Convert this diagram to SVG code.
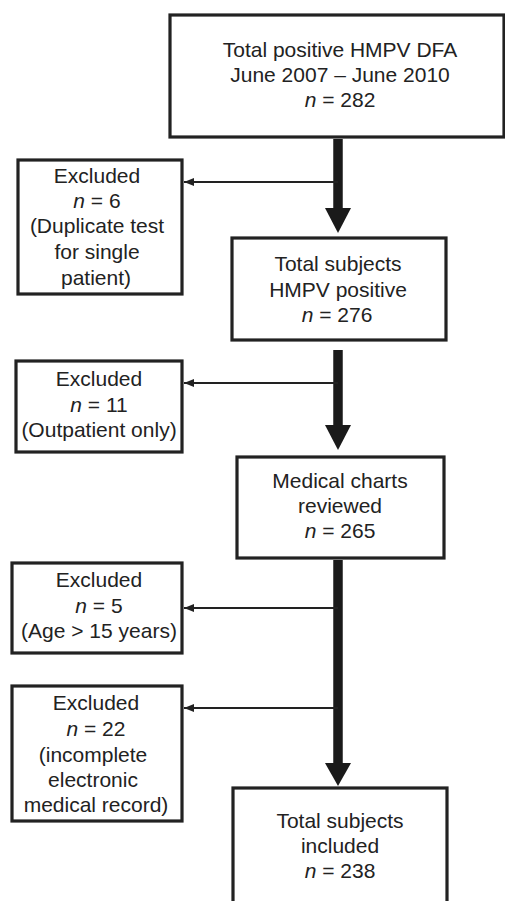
<svg xmlns="http://www.w3.org/2000/svg" width="505" height="901" viewBox="0 0 505 901">
<defs>
<style>
.box{fill:#fff;stroke:#222;stroke-width:3.2}
.t{font-family:"Liberation Sans",Arial,sans-serif;font-size:21px;fill:#222;text-anchor:middle}
.i{font-style:italic}
.shaft{stroke:#1a1a1a;stroke-width:9.5;fill:none}
.branch{stroke:#222;stroke-width:2.2;fill:none}
.head{fill:#1a1a1a}
</style>
<marker id="sm" markerWidth="11" markerHeight="9" refX="10" refY="4.5" orient="auto" markerUnits="userSpaceOnUse">
<path d="M0,0.5 L10,4.5 L0,8.5 Z" fill="#222"/>
</marker>
</defs>
<rect width="505" height="901" fill="#fff"/>
<g id="n1">
<rect class="box" x="170" y="15" width="334" height="122"/>
<text class="t" x="340" y="57">Total positive HMPV DFA</text>
<text class="t" x="340" y="82">June 2007 – June 2010</text>
<text class="t" x="340" y="107"><tspan class="i">n</tspan> = 282</text>
</g>
<g id="x1">
<rect class="box" x="18" y="160" width="164" height="134"/>
<text class="t" x="97" y="183">Excluded</text>
<text class="t" x="97" y="208"><tspan class="i">n</tspan> = 6</text>
<text class="t" x="97" y="233">(Duplicate test</text>
<text class="t" x="97" y="259">for single</text>
<text class="t" x="96" y="285">patient)</text>
</g>
<g id="n2">
<rect class="box" x="232" y="238" width="214" height="102"/>
<text class="t" x="338" y="271">Total subjects</text>
<text class="t" x="338" y="297">HMPV positive</text>
<text class="t" x="337" y="322"><tspan class="i">n</tspan> = 276</text>
</g>
<g id="x2">
<rect class="box" x="16" y="361" width="166" height="91"/>
<text class="t" x="99" y="386">Excluded</text>
<text class="t" x="99" y="412"><tspan class="i">n</tspan> = 11</text>
<text class="t" x="99" y="437">(Outpatient only)</text>
</g>
<g id="n3">
<rect class="box" x="237" y="457" width="207" height="101"/>
<text class="t" x="340" y="488">Medical charts</text>
<text class="t" x="340" y="513">reviewed</text>
<text class="t" x="340" y="538"><tspan class="i">n</tspan> = 265</text>
</g>
<g id="x3">
<rect class="box" x="12" y="563" width="170" height="90"/>
<text class="t" x="99" y="587">Excluded</text>
<text class="t" x="99" y="613"><tspan class="i">n</tspan> = 5</text>
<text class="t" x="99" y="638">(Age &gt; 15 years)</text>
</g>
<g id="x4">
<rect class="box" x="12" y="686" width="170" height="135"/>
<text class="t" x="96" y="710">Excluded</text>
<text class="t" x="96" y="736"><tspan class="i">n</tspan> = 22</text>
<text class="t" x="93" y="762">(incomplete</text>
<text class="t" x="93" y="787">electronic</text>
<text class="t" x="96" y="812">medical record)</text>
</g>
<g id="n4">
<rect class="box" x="233" y="788" width="214" height="130"/>
<text class="t" x="340" y="828">Total subjects</text>
<text class="t" x="340" y="853">included</text>
<text class="t" x="340" y="878"><tspan class="i">n</tspan> = 238</text>
</g>
<g id="connectors">
<line class="shaft" x1="338" y1="139" x2="338" y2="210"/>
<polygon class="head" points="325,208 351,208 338,233"/>
<line class="branch" x1="338" y1="182" x2="184" y2="182" marker-end="url(#sm)"/>
<line class="shaft" x1="338" y1="350" x2="338" y2="427"/>
<polygon class="head" points="325,425 351,425 338,450"/>
<line class="branch" x1="338" y1="383" x2="184" y2="383" marker-end="url(#sm)"/>
<line class="shaft" x1="338" y1="560" x2="338" y2="765"/>
<polygon class="head" points="325,763 351,763 338,786"/>
<line class="branch" x1="338" y1="608" x2="184" y2="608" marker-end="url(#sm)"/>
<line class="branch" x1="338" y1="708" x2="184" y2="708" marker-end="url(#sm)"/>
</g>
</svg>
